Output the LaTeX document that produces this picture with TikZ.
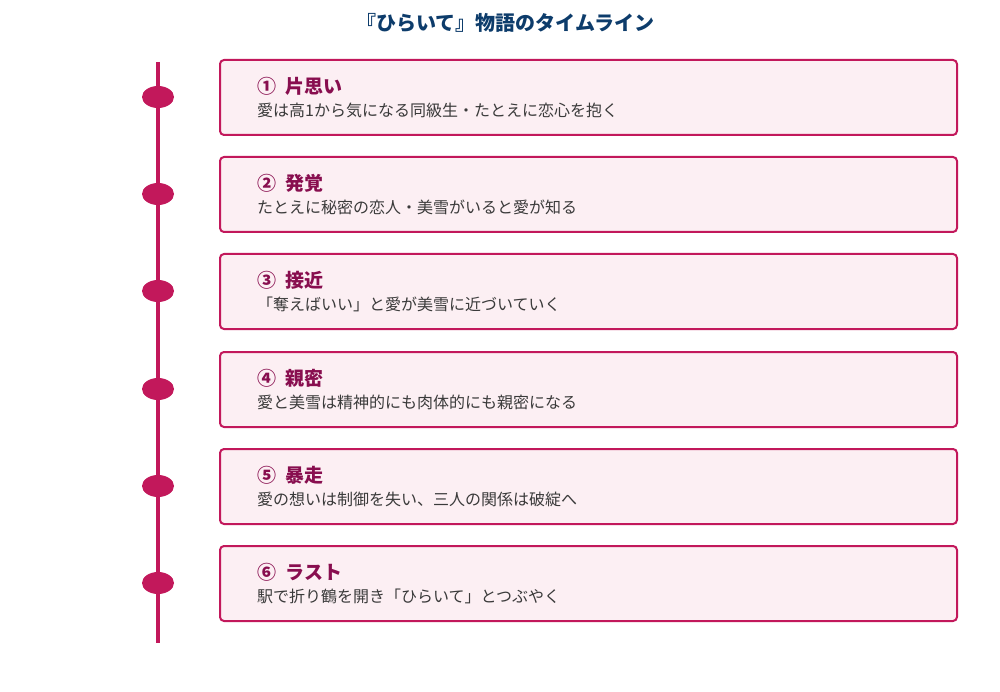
\documentclass[tikz,border=0pt]{standalone}
\usepackage{fontspec}
\setmainfont{Noto Sans CJK JP}
\usetikzlibrary{shapes.geometric}
\definecolor{crim}{HTML}{C2185B}
\definecolor{boxfill}{HTML}{FCEFF3}
\definecolor{headc}{HTML}{880E4F}
\definecolor{titlec}{HTML}{0D3C6B}
\definecolor{descc}{HTML}{3A3A3A}
\tikzset{
  eventbox/.style={draw=crim, line width=2pt, fill=boxfill, rounded corners=4pt},
  dot/.style={ellipse, fill=crim, minimum width=32pt, minimum height=22pt, inner sep=0pt},
  headtxt/.style={anchor=west, inner sep=0pt, text=headc, font=\fontsize{19}{21}\selectfont\bfseries},
  desctxt/.style={anchor=west, inner sep=0pt, text=descc, font=\fontsize{16}{18}\selectfont},
  titletxt/.style={inner sep=0pt, text=titlec, font=\fontsize{20}{24}\selectfont\bfseries},
  axis/.style={draw=crim, line width=4pt}
}
\begin{document}
\begin{tikzpicture}[x=1pt,y=-1pt]
\useasboundingbox (0,0) rectangle (1000,692);
\node[titletxt] (title) at (505,23) {『ひらいて』物語のタイムライン};
\coordinate (top) at (158,62);
\coordinate (bot) at (158,643);
\draw[axis] (top) -- (bot);
\foreach \i/\y/\n/\h/\d in {
 1/97/①/片思い/愛は高1から気になる同級生・たとえに恋心を抱く,
 2/194/②/発覚/たとえに秘密の恋人・美雪がいると愛が知る,
 3/291/③/接近/「奪えばいい」と愛が美雪に近づいていく,
 4/389/④/親密/愛と美雪は精神的にも肉体的にも親密になる,
 5/486/⑤/暴走/愛の想いは制御を失い、三人の関係は破綻へ,
 6/583/⑥/ラスト/駅で折り鶴を開き「ひらいて」とつぶやく}{
  \node[dot] (d\i) at (158,\y) {};
  \draw[eventbox] (220,\y-37) rectangle (957,\y+38);
  \node[headtxt] (h\i) at (257,\y-11) {\n\hspace{0.5em}\h};
  \node[desctxt] (t\i) at (257,\y+13) {\d};
}
\end{tikzpicture}
\end{document}
